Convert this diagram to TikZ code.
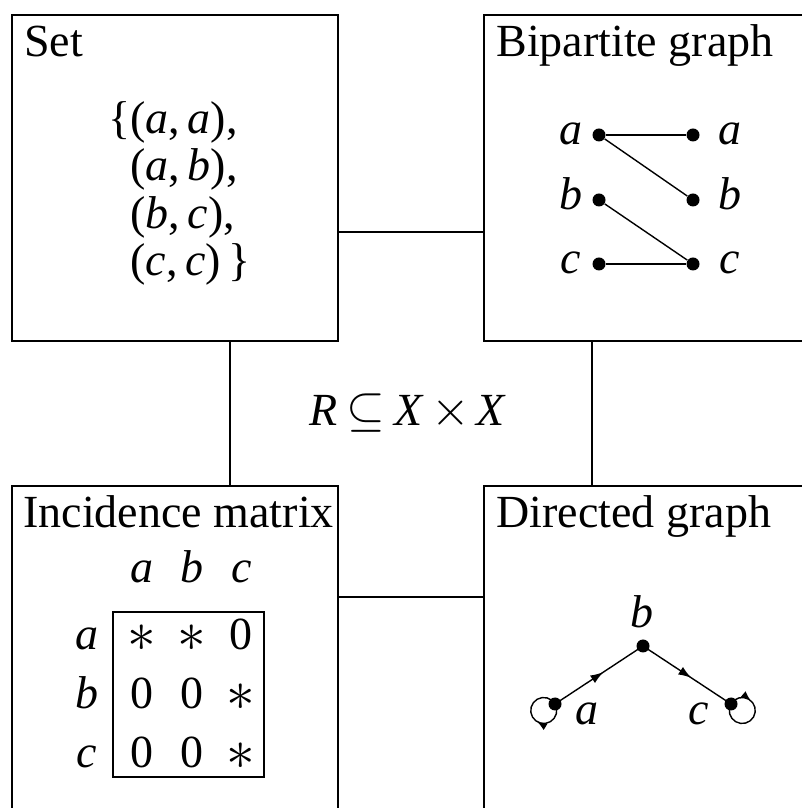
\documentclass[tikz,border=0pt]{standalone}
\usepackage{fontspec}
\usepackage{graphicx}
\setmainfont{Liberation Serif}
\usetikzlibrary{arrows.meta,decorations.markings}

\newcommand{\mv}[1]{\textit{#1}}
\newcommand{\mstar}{\smash{\raisebox{-1pt}{\scalebox{1.15}{$\ast$}}}}

\begin{document}
\begin{tikzpicture}[
    x=0.5pt, y=0.5pt,
    font=\fontsize{23}{27}\selectfont,
    panel/.style={draw, line width=1pt, minimum width=163pt, minimum height=163pt, inner sep=0pt},
    paneltitle/.style={anchor=base west, inner sep=0pt},
    txt/.style={anchor=base, inner sep=0pt},
    setline/.style={anchor=base west, inner sep=0pt},
    vdot/.style={circle, fill, inner sep=0pt, minimum size=6.5pt},
    linkline/.style={line width=1pt},
    thinline/.style={line width=0.7pt},
    midarrow/.style={thinline, decoration={markings, mark=at position #1 with {\arrow{Latex[length=6.5pt,width=4.5pt]}}}, postaction={decorate}},
    looparrow/.style={thinline, decoration={markings, mark=at position #1 with {\arrow{Latex[length=5pt,width=3.8pt]}}}, postaction={decorate}},
]
\useasboundingbox (0,0) rectangle (802,808);
\clip (0,0) rectangle (802,808);

% panels
\node[panel] (set) at (175,630) {};
\node[panel] (bip) at (647,630) {};
\node[panel] (inc) at (175,159) {};
\node[panel] (dir) at (647,159) {};

\node[paneltitle] (settitle) at ([shift={(13,-43)}]set.north west) {Set};
\node[paneltitle] (biptitle) at ([shift={(13,-43)}]bip.north west) {Bipartite graph};
\node[paneltitle] (inctitle) at ([shift={(12,-43)}]inc.north west) {Incidence matrix};
\node[paneltitle] (dirtitle) at ([shift={(13,-43)}]dir.north west) {Directed graph};

% links between panels
\coordinate (lv) at (230,400);
\coordinate (rv) at (592,400);
\coordinate (th) at (400,576);
\coordinate (bh) at (400,211);
\draw[linkline] (set.east |- th) -- (bip.west |- th);
\draw[linkline] (inc.east |- bh) -- (dir.west |- bh);
\draw[linkline] (set.south -| lv) -- (inc.north -| lv);
\draw[linkline] (bip.south -| rv) -- (dir.north -| rv);

\node[txt] (rel) at (408,382) {\mv{R}\hspace{0.2em}$\subseteq$\hspace{0.2em}\mv{X}\hspace{0.15em}$\times$\hspace{0.15em}\mv{X}};

% set
\node[setline] (s1) at (108,674) {\{(\mv{a},\,\mv{a}),};
\node[setline] (s2) at (108,627) {\phantom{\{}(\mv{a},\,\mv{b}),};
\node[setline] (s3) at (108,579) {\phantom{\{}(\mv{b},\,\mv{c}),};
\node[setline] (s4) at (108,532) {\phantom{\{}(\mv{c},\,\mv{c})\,\}};

% bipartite graph
\node[vdot] (la) at (599,673) {};
\node[vdot] (lb) at (599,608) {};
\node[vdot] (lc) at (599,544) {};
\node[vdot] (ra) at (693,673) {};
\node[vdot] (rb) at (693,608) {};
\node[vdot] (rc) at (693,544) {};
\draw[thinline] (la) -- (ra);
\draw[thinline] (la) -- (rb);
\draw[thinline] (lb) -- (rc);
\draw[thinline] (lc) -- (rc);
\node[txt] (lla) at (571,663) {\mv{a}};
\node[txt] (llb) at (571,598) {\mv{b}};
\node[txt] (llc) at (571,534) {\mv{c}};
\node[txt] (rla) at (730,663) {\mv{a}};
\node[txt] (rlb) at (730,598) {\mv{b}};
\node[txt] (rlc) at (730,534) {\mv{c}};

% incidence matrix
\node[draw, line width=0.8pt, minimum width=75.5pt, minimum height=82.5pt, inner sep=0pt] (mframe) at (188.5,113.5) {};
\foreach \lab [count=\i] in {a,b,c} {
    \node[txt] (col\i) at ({92+50*\i},225) {\mv{\lab}};
}
\foreach \lab/\ea/\eb/\ec [count=\i] in {a/\mstar/\mstar/0, b/0/0/\mstar, c/0/0/\mstar} {
    \node[txt] (row\i) at (87,{217-59*\i}) {\mv{\lab}};
    \node[txt] (m\i-1) at (142,{217-59*\i}) {\ea};
    \node[txt] (m\i-2) at (192,{217-59*\i}) {\eb};
    \node[txt] (m\i-3) at (241,{217-59*\i}) {\ec};
}

% directed graph
\coordinate (pa) at (555,104);
\coordinate (pb) at (643,162);
\coordinate (pc) at (731,104);
\draw[midarrow=0.55] (pa) -- (pb);
\draw[midarrow=0.55] (pb) -- (pc);
\draw[looparrow=0.42] (pa) arc[start angle=30, delta angle=-360, radius=13];
\draw[looparrow=0.28] (pc) arc[start angle=150, delta angle=-360, radius=13];
\node[vdot] (va) at (pa) {};
\node[vdot] (vb) at (pb) {};
\node[vdot] (vc) at (pc) {};
\node[txt] (vla) at (587,83) {\mv{a}};
\node[txt] (vlb) at (642,180) {\mv{b}};
\node[txt] (vlc) at (699,83) {\mv{c}};
\end{tikzpicture}
\end{document}
